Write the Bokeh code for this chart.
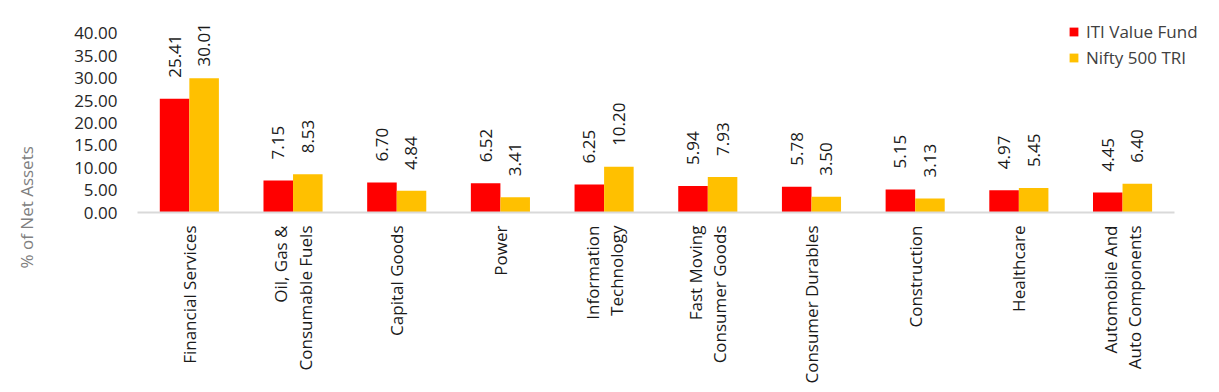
from math import pi
from bokeh.plotting import figure
from bokeh.layouts import row
from bokeh.models import ColumnDataSource, Range1d, FixedTicker, NumeralTickFormatter, Legend, LegendItem, Title
from bokeh.core.properties import value
from bokeh.embed import file_html
from bokeh.resources import INLINE

categories = ["Financial Services", "Oil, Gas &\nConsumable Fuels", "Capital Goods", "Power",
              "Information\nTechnology", "Fast Moving\nConsumer Goods", "Consumer Durables",
              "Construction", "Healthcare", "Automobile And\nAuto Components"]
fund = [25.41, 7.15, 6.70, 6.52, 6.25, 5.94, 5.78, 5.15, 4.97, 4.45]
nifty = [30.01, 8.53, 4.84, 3.41, 10.20, 7.93, 3.50, 3.13, 5.45, 6.40]
series_names = ["ITI Value Fund", "Nifty 500 TRI"]
y_ticks = [0, 5, 10, 15, 20, 25, 30, 35, 40]
y_title = "% of Net Assets"

FONT = "Open Sans"
W = 0.285          # bar width in category units
FRAME_H = 200
Y_MAX = 44.69
PPU = FRAME_H / Y_MAX   # pixels per data unit
GAP, LBL_LEN, TOP_LIMIT = 21, 44, 190  # label gap, label length, max label top (px above axis)


def label_offsets(vals):
    # like a spreadsheet: keep the rotated label inside the plot area
    out = []
    for v in vals:
        top = v * PPU + GAP + LBL_LEN
        out.append(-(GAP - max(0, top - TOP_LIMIT)))
    return out


n = len(categories)
centers = [i + 0.5 for i in range(n)]
source = ColumnDataSource(dict(
    xc=centers,
    x_fund=[c - W / 2 for c in centers],
    x_nifty=[c + W / 2 for c in centers],
    fund=fund, nifty=nifty,
    fund_lbl=["%.2f" % v for v in fund],
    nifty_lbl=["%.2f" % v for v in nifty],
    fund_off=label_offsets(fund),
    nifty_off=label_offsets(nifty),
))

# narrow strip carrying the vertical axis title
LW = 40
lab = figure(frame_width=1, frame_height=FRAME_H, x_range=Range1d(0, 1), y_range=Range1d(0, 1),
             x_axis_location=None, y_axis_location=None,
             min_border_left=LW - 1, min_border_right=0, min_border_top=12, min_border_bottom=160,
             output_backend="svg", toolbar_location=None)
lab.outline_line_color = None
lab.grid.visible = False
lab.add_layout(Title(text=y_title, align="left", offset=-56, vertical_align="top", standoff=0,
                     text_font=FONT, text_font_size="17px", text_font_style="normal",
                     text_color="#808080"), "left")

p = figure(x_range=Range1d(0, 10.30), y_range=Range1d(0, Y_MAX),
           frame_width=1068, frame_height=FRAME_H, output_backend="svg", toolbar_location=None,
           min_border_left=137 - LW, min_border_right=5, min_border_top=12, min_border_bottom=160)
p.outline_line_color = None
p.xgrid.grid_line_color = None
p.ygrid.grid_line_color = None

r1 = p.vbar(x="x_fund", top="fund", width=W, source=source, fill_color="#FF0000", line_color=None)
r2 = p.vbar(x="x_nifty", top="nifty", width=W, source=source, fill_color="#FFC000", line_color=None)

for xcol, col, lbl, off in (("x_fund", "fund", "fund_lbl", "fund_off"),
                            ("x_nifty", "nifty", "nifty_lbl", "nifty_off")):
    p.text(x=xcol, y=col, text=lbl, source=source,
           angle=pi / 2, text_align="left", text_baseline="middle", y_offset=off,
           text_font=value(FONT), text_font_size="17px", text_color="#1a1a1a")

p.yaxis.ticker = FixedTicker(ticks=y_ticks)
p.yaxis.formatter = NumeralTickFormatter(format="0.00")
p.yaxis.axis_line_color = None
p.yaxis.major_tick_line_color = None
p.yaxis.minor_tick_line_color = None
p.yaxis.major_tick_out = 0
p.yaxis.major_tick_in = 0
p.yaxis.major_label_standoff = 20
p.yaxis.major_label_text_font = FONT
p.yaxis.major_label_text_font_size = "17px"
p.yaxis.major_label_text_color = "#262626"

p.xaxis.ticker = FixedTicker(ticks=centers)
p.xaxis.major_label_overrides = {c: lab_ for c, lab_ in zip(centers, categories)}
p.xaxis.bounds = (0, n)
p.xaxis.axis_line_color = "#D9D9D9"
p.xaxis.axis_line_width = 2
p.xaxis.major_tick_line_color = None
p.xaxis.minor_tick_line_color = None
p.xaxis.major_tick_out = 0
p.xaxis.major_tick_in = 0
p.xaxis.major_label_orientation = pi / 2
p.xaxis.major_label_standoff = 13
p.xaxis.major_label_text_font = FONT
p.xaxis.major_label_text_font_size = "17px"
p.xaxis.major_label_text_color = "#1a1a1a"
p.xaxis.major_label_text_line_height = 1.05

legend = Legend(items=[LegendItem(label=series_names[0], renderers=[r1]),
                       LegendItem(label=series_names[1], renderers=[r2])],
                location=(931, 143), orientation="vertical",
                glyph_width=11, glyph_height=11, label_standoff=7, spacing=3,
                label_height=20, padding=0, margin=0,
                border_line_color=None, background_fill_alpha=0,
                label_text_font=FONT, label_text_font_size="17px", label_text_color="#404040")
p.add_layout(legend)

layout = row(lab, p, spacing=0)
open("out.html", "w").write(file_html(layout, INLINE))
